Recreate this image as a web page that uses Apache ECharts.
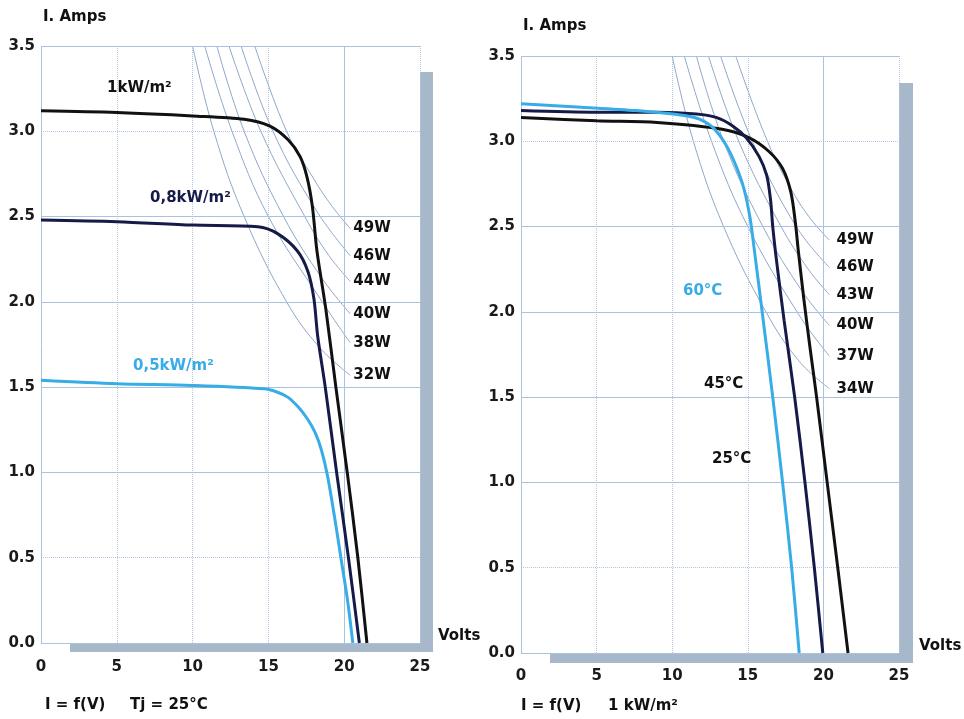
<!DOCTYPE html>
<html>
<head>
<meta charset="utf-8">
<script src="https://cdn.jsdelivr.net/npm/echarts@6/dist/echarts.min.js"></script>
<style>
  html, body { margin: 0; padding: 0; background: #fff; }
  #chart { width: 964px; height: 719px; }
</style>
</head>
<body>
<div id="chart"></div>
<script>
// --- left panel: I = f(V), Tj = 25°C, three irradiance levels [volts, amps]
const irr1000 = [[0, 3.12], [5, 3.11], [10, 3.09], [13.4, 3.07], [15.1, 3.03], [16.3, 2.95], [17.1, 2.85], [17.55, 2.73], [17.9, 2.56], [18.2, 2.3], [18.8, 1.95], [19.45, 1.5], [20.2, 1.0], [20.9, 0.5], [21.5, 0]];
const irr800 = [[0, 2.48], [5, 2.47], [10, 2.45], [14.3, 2.44], [15.6, 2.4], [16.9, 2.3], [17.6, 2.18], [18.0, 2.02], [18.25, 1.8], [18.75, 1.5], [19.5, 1.0], [20.28, 0.5], [21.0, 0]];
const irr500 = [[0, 1.54], [5, 1.52], [10, 1.51], [14.7, 1.49], [15.6, 1.47], [16.3, 1.44], [17.0, 1.38], [17.6, 1.31], [18.1, 1.23], [18.5, 1.13], [18.9, 0.98], [19.36, 0.74], [19.8, 0.49], [20.22, 0.25], [20.57, 0]];

// constant power curves, left panel
const powerLeftNames = ["32W", "38W", "40W", "44W", "46W", "49W"];
const powerLeftCurves = [
    [[10.0, 3.5], [11.4, 3.0], [13.4, 2.5], [16.2, 2.0], [18.4, 1.73], [20.4, 1.57]],
    [[10.8, 3.5], [12.6, 3.0], [15.0, 2.5], [18.4, 2.02], [20.4, 1.76]],
    [[11.6, 3.5], [13.4, 3.0], [16.0, 2.5], [18.6, 2.13], [20.4, 1.93]],
    [[12.4, 3.5], [14.5, 3.0], [17.4, 2.5], [19.0, 2.27], [20.4, 2.12]],
    [[13.2, 3.5], [15.3, 3.0], [18.2, 2.53], [20.4, 2.27]],
    [[14.1, 3.5], [16.2, 3.0], [18.0, 2.72], [19.2, 2.56], [20.4, 2.43]],
];

// --- right panel: I = f(V), 1 kW/m², three temperatures
const temp25 = [[0, 3.14], [5, 3.12], [9, 3.11], [13.3, 3.07], [15.1, 3.02], [16.4, 2.94], [17.3, 2.84], [17.85, 2.7], [18.15, 2.52], [18.35, 2.35], [18.7, 2.08], [19.1, 1.8], [19.55, 1.5], [20.25, 1.0], [20.95, 0.5], [21.63, 0]];
const temp45 = [[0, 3.18], [5, 3.17], [9, 3.17], [11.6, 3.16], [12.9, 3.14], [14.0, 3.09], [14.9, 3.02], [15.75, 2.91], [16.25, 2.8], [16.5, 2.66], [16.65, 2.5], [16.9, 2.3], [17.4, 1.95], [18.1, 1.5], [18.78, 1.0], [19.4, 0.5], [19.96, 0]];
const temp60 = [[0, 3.22], [4, 3.2], [7.6, 3.18], [10.9, 3.15], [11.8, 3.13], [12.7, 3.08], [13.55, 2.98], [14.2, 2.86], [14.75, 2.72], [15.15, 2.55], [15.45, 2.35], [15.95, 2.0], [16.65, 1.5], [17.3, 1.0], [17.9, 0.5], [18.4, 0]];

const powerRightNames = ["34W", "37W", "40W", "43W", "46W", "49W"];
const powerRightCurves = [
    [[10.0, 3.5], [11.4, 3.0], [13.4, 2.5], [16.2, 2.0], [18.4, 1.71], [20.4, 1.55]],
    [[10.8, 3.5], [12.6, 3.0], [15.0, 2.5], [18.4, 1.98], [20.4, 1.74]],
    [[11.6, 3.5], [13.4, 3.0], [16.0, 2.5], [18.6, 2.12], [20.4, 1.92]],
    [[12.4, 3.5], [14.4, 3.0], [17.2, 2.5], [19.0, 2.25], [20.4, 2.1]],
    [[13.2, 3.5], [15.3, 3.0], [18.2, 2.5], [20.4, 2.26]],
    [[14.2, 3.5], [16.3, 3.0], [18.0, 2.7], [19.2, 2.54], [20.4, 2.42]],
];

// grid lines: some drawn solid, some dotted
const gridSolidX = [0, 20];
const gridDottedX = [5, 10, 15, 25];
const gridSolidY = [0, 1.0, 1.5, 2.0, 2.5, 3.5];
const gridDottedY = [0.5, 3.0];

const FONT = "DejaVu Sans";
const BLACK = "#111111";
const NAVY = "#151a48";
const BLUE = "#38ace6";
const GRIDC = "#a9c2df";
const HYPER = "#8ea8c9";
const SHADOW = "#a7b8cb";

const chart = echarts.init(document.getElementById("chart"));

function gridLineSeries(idx) {
    const solid = { type: "solid", color: GRIDC, width: 1 };
    const dotted = { type: "dotted", color: "#b3c8e0", width: 1 };
    return {
        type: "line",
        xAxisIndex: idx,
        yAxisIndex: idx,
        data: [],
        silent: true,
        z: 1,
        markLine: {
            silent: true,
            symbol: ["none", "none"],
            label: { show: false },
            animation: false,
            data: [
                ...gridSolidX.map((v) => ({ xAxis: v, lineStyle: solid })),
                ...gridDottedX.map((v) => ({ xAxis: v, lineStyle: dotted })),
                ...gridSolidY.map((v) => ({ yAxis: v, lineStyle: solid })),
                ...gridDottedY.map((v) => ({ yAxis: v, lineStyle: dotted })),
            ],
        },
    };
}

function powerSeries(idx, names, curves, dist) {
    return curves.map((c, i) => ({
        name: names[i],
        type: "line",
        xAxisIndex: idx,
        yAxisIndex: idx,
        data: c,
        smooth: 0.4,
        symbol: "none",
        silent: true,
        z: 2,
        lineStyle: { color: HYPER, width: 1 },
        endLabel: {
            show: true,
            formatter: (p) => p.seriesName,
            distance: dist,
            color: BLACK,
            fontFamily: FONT,
            fontWeight: "bold",
            fontSize: 15,
        },
    }));
}

function ivSeries(idx, name, data, color) {
    return {
        name: name,
        type: "line",
        xAxisIndex: idx,
        yAxisIndex: idx,
        data: data,
        smooth: 0.3,
        symbol: "none",
        z: 5,
        lineStyle: { color: color, width: 3 },
    };
}

function xAxisOf(idx, margin) {
    return {
        type: "value",
        gridIndex: idx,
        min: 0,
        max: 25,
        interval: 5,
        axisLine: { show: false },
        axisTick: { show: false },
        splitLine: { show: false },
        axisLabel: { margin: margin, color: "#1a1a1a", fontFamily: FONT, fontWeight: "bold", fontSize: 15 },
    };
}

function yAxisOf(idx) {
    return {
        type: "value",
        gridIndex: idx,
        min: 0,
        max: 3.5,
        interval: 0.5,
        axisLine: { show: false },
        axisTick: { show: false },
        splitLine: { show: false },
        axisLabel: {
            margin: 6,
            color: "#1a1a1a",
            fontFamily: FONT,
            fontWeight: "bold",
            fontSize: 15,
            formatter: (v) => v.toFixed(1),
        },
    };
}

function txt(x, y, text, color) {
    return {
        type: "text",
        left: x,
        top: y,
        z: 20,
        style: { text: text, fill: color || BLACK, font: "bold 15px '" + FONT + "'" },
    };
}

const option = {
    animation: false,
    grid: [
        { left: 41, top: 46, width: 379, height: 597 },
        { left: 521, top: 56, width: 378, height: 597 },
    ],
    xAxis: [xAxisOf(0, 17), xAxisOf(1, 16)],
    yAxis: [yAxisOf(0), yAxisOf(1)],
    series: [
        gridLineSeries(0),
        gridLineSeries(1),
        ...powerSeries(0, powerLeftNames, powerLeftCurves, 3),
        ...powerSeries(1, powerRightNames, powerRightCurves, 7),
        ivSeries(0, "1kW/m²", irr1000, BLACK),
        ivSeries(0, "0,8kW/m²", irr800, NAVY),
        ivSeries(0, "0,5kW/m²", irr500, BLUE),
        ivSeries(1, "25°C", temp25, BLACK),
        ivSeries(1, "45°C", temp45, NAVY),
        ivSeries(1, "60°C", temp60, BLUE),
    ],
    graphic: [
        txt(43, 10, "I. Amps"),
        txt(107, 81, "1kW/m²"),
        txt(150, 191, "0,8kW/m²", NAVY),
        txt(133, 359, "0,5kW/m²", BLUE),
        txt(438, 629, "Volts"),
        txt(45, 698, "I = f(V)"),
        txt(130, 698, "Tj = 25°C"),
        txt(523, 19, "I. Amps"),
        txt(683, 284, "60°C", BLUE),
        txt(704, 377, "45°C"),
        txt(712, 452, "25°C"),
        txt(919, 639, "Volts"),
        txt(521, 699, "I = f(V)"),
        txt(608, 699, "1 kW/m²"),
    ],
};

chart.setOption(option);

// drop shadow of each plot frame, placed from the axes' own pixel positions
const shadows = [];
[[26, 29, 13, 9], [27, 29, 14, 10]].forEach((s, idx) => {
    const tl = chart.convertToPixel({ gridIndex: idx }, [0, 3.5]);
    const br = chart.convertToPixel({ gridIndex: idx }, [25, 0]);
    shadows.push({
        type: "rect",
        z: 0,
        silent: true,
        shape: { x: br[0], y: tl[1] + s[0], width: s[2], height: br[1] - tl[1] - s[0] + s[3] },
        style: { fill: SHADOW },
    });
    shadows.push({
        type: "rect",
        z: 0,
        silent: true,
        shape: { x: tl[0] + s[1], y: br[1], width: br[0] - tl[0] - s[1] + s[2], height: s[3] },
        style: { fill: SHADOW },
    });
});
chart.setOption({ graphic: option.graphic.concat(shadows) });
</script>
</body>
</html>
